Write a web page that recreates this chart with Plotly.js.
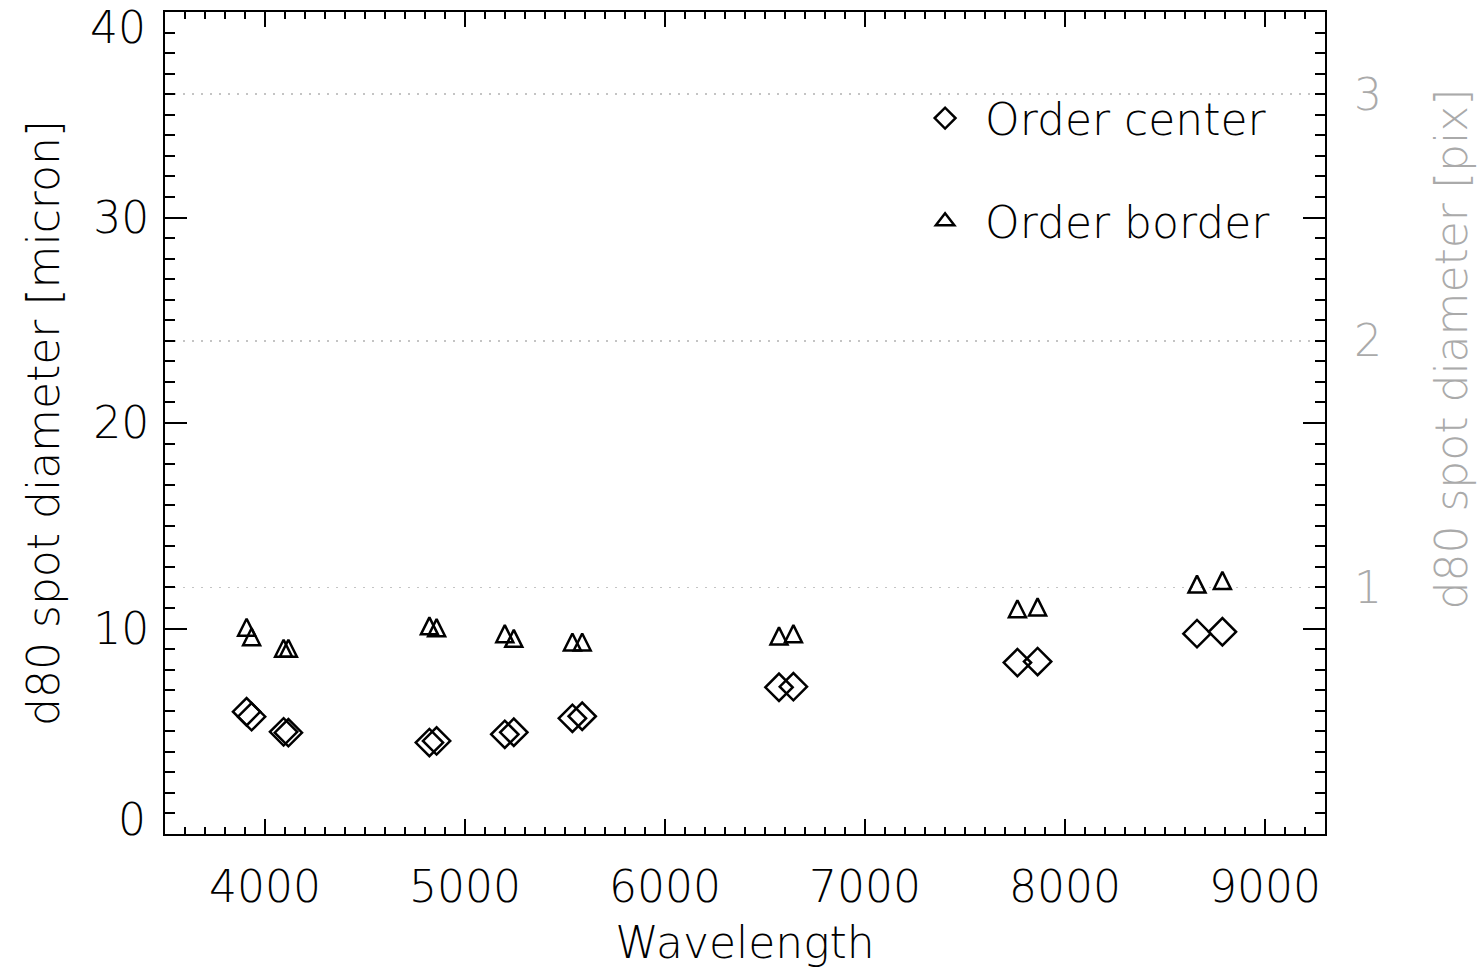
<!DOCTYPE html>
<html>
<head>
<meta charset="utf-8">
<script src="https://cdn.plot.ly/plotly-3.0.1.min.js"></script>
<style>
  html, body { margin: 0; padding: 0; background: #ffffff; }
  #plot { width: 1477px; height: 971px; }
</style>
</head>
<body>
<div id="plot"></div>
<script>
// Wavelength of each measured spot; order centre and order border share them
const wavelength = [3908, 3933, 4093, 4117, 4822, 4858, 5199, 5244, 5537, 5586, 6570, 6642, 7762, 7863, 8660, 8787];
// d80 spot diameter in micron at the order centre
const d80Center = [5.95, 5.71, 4.97, 4.93, 4.45, 4.53, 4.85, 4.95, 5.63, 5.73, 7.14, 7.17, 8.34, 8.39, 9.75, 9.84];
// d80 spot diameter in micron at the order border
const d80Border = [10.06, 9.60, 9.04, 9.04, 10.13, 10.04, 9.75, 9.52, 9.34, 9.34, 9.64, 9.75, 10.96, 11.05, 12.16, 12.34];
const seriesNames = ['Order center', 'Order border'];
const micronPerPixel = 12;
const pixTicks = [1, 2, 3];
const xTicks = [4000, 5000, 6000, 7000, 8000, 9000];
const yTicks = [0, 10, 20, 30, 40];

const FONT = '"DejaVu Sans ExtraLight", "DejaVu Sans", sans-serif';
const GREY = '#aaaaaa';
const INK = '#000000';
const textFont = (color) => ({ family: FONT, size: 44, color: color || INK, weight: 200 });

const centerTrace = {
  type: 'scatter', mode: 'markers',
  x: wavelength, y: d80Center,
  name: seriesNames[0], legendgroup: 'center',
  marker: { symbol: 'diamond-open', size: 21, color: INK, line: { width: 2.5, color: INK } },
  hoverinfo: 'x+y'
};

// upright open triangle centred on its point (a pointing-down arrow turned round)
const borderTrace = {
  type: 'scatter', mode: 'markers',
  x: wavelength, y: d80Border,
  name: seriesNames[1], legendgroup: 'border', showlegend: false,
  marker: { symbol: 'arrow-down-open', angle: 180, standoff: 8.5, size: 17, color: INK, line: { width: 2.5, color: INK } },
  hoverinfo: 'x+y'
};

// legend key for the border series
const borderKey = {
  type: 'scatter', mode: 'markers',
  x: [null], y: [null],
  name: seriesNames[1], legendgroup: 'border',
  marker: { symbol: 'triangle-up-open', size: 16, color: INK, line: { width: 2.5, color: INK } },
  hoverinfo: 'skip'
};

// same border spots expressed in detector pixels, carried by the right axis
const pixTrace = {
  type: 'scatter', mode: 'markers',
  x: wavelength, y: d80Border.map(v => v / micronPerPixel),
  yaxis: 'y2', showlegend: false, hoverinfo: 'skip',
  marker: { size: 1, opacity: 0 }
};

// the end labels of the micron axis sit just inside the frame
const lastY = yTicks.length - 1;
const endLabels = [0, lastY].map(i => ({
  text: String(yTicks[i]),
  xref: 'paper', x: 0, xanchor: 'right', xshift: -17,
  yref: 'y', y: yTicks[i], yanchor: 'middle', yshift: i === 0 ? 15 : -15,
  showarrow: false, font: textFont()
}));

const layout = {
  width: 1477, height: 971,
  margin: { l: 165, r: 152, t: 12, b: 137 },
  paper_bgcolor: '#ffffff', plot_bgcolor: '#ffffff',
  font: textFont(),
  showlegend: true,
  legend: {
    x: 0.638, y: 0.9136, xanchor: 'left', yanchor: 'top',
    bgcolor: 'rgba(0,0,0,0)', borderwidth: 0,
    font: textFont(),
    itemwidth: 70, tracegroupgap: 43, traceorder: 'grouped'
  },
  xaxis: {
    range: [3500, 9300], tickmode: 'array', tickvals: xTicks,
    ticks: 'inside', ticklen: 15, tickwidth: 2, tickcolor: INK,
    minor: { dtick: 100, ticks: 'inside', ticklen: 7, tickwidth: 2, tickcolor: INK, showgrid: false },
    showline: true, linewidth: 2, linecolor: INK, mirror: 'ticks',
    showgrid: false, zeroline: false,
    ticklabelstandoff: 13,
    tickfont: textFont(),
    title: { text: 'Wavelength', standoff: 16, font: textFont() }
  },
  yaxis: {
    range: [0, 40], tickmode: 'array', tickvals: yTicks,
    ticktext: yTicks.map((v, i) => (i === 0 || i === lastY) ? '' : String(v)),
    ticks: 'inside', ticklen: 22, tickwidth: 2, tickcolor: INK,
    minor: { dtick: 1, ticks: 'inside', ticklen: 10, tickwidth: 2, tickcolor: INK, showgrid: false },
    showline: true, linewidth: 2, linecolor: INK, mirror: 'ticks',
    showgrid: false, zeroline: false,
    ticklabelstandoff: 5,
    tickfont: textFont(),
    title: { text: 'd80 spot diameter [micron]', standoff: 20, font: textFont() }
  },
  yaxis2: {
    overlaying: 'y', side: 'right', anchor: 'x',
    range: [0, 40 / micronPerPixel], tickmode: 'array', tickvals: pixTicks,
    ticks: '', showline: false, zeroline: false,
    showgrid: true, gridcolor: '#c4c4c4', gridwidth: 1.5, griddash: '2px,7px',
    ticklabelstandoff: 28,
    tickfont: textFont(GREY)
  },
  annotations: endLabels.concat([{
    text: 'd80 spot diameter [pix]', textangle: -90,
    xref: 'paper', yref: 'paper', x: 1.109, y: 0.59,
    xanchor: 'center', yanchor: 'middle', showarrow: false,
    font: textFont(GREY)
  }])
};

Plotly.newPlot('plot', [centerTrace, borderTrace, borderKey, pixTrace], layout, { displayModeBar: false, staticPlot: true });
</script>
</body>
</html>
